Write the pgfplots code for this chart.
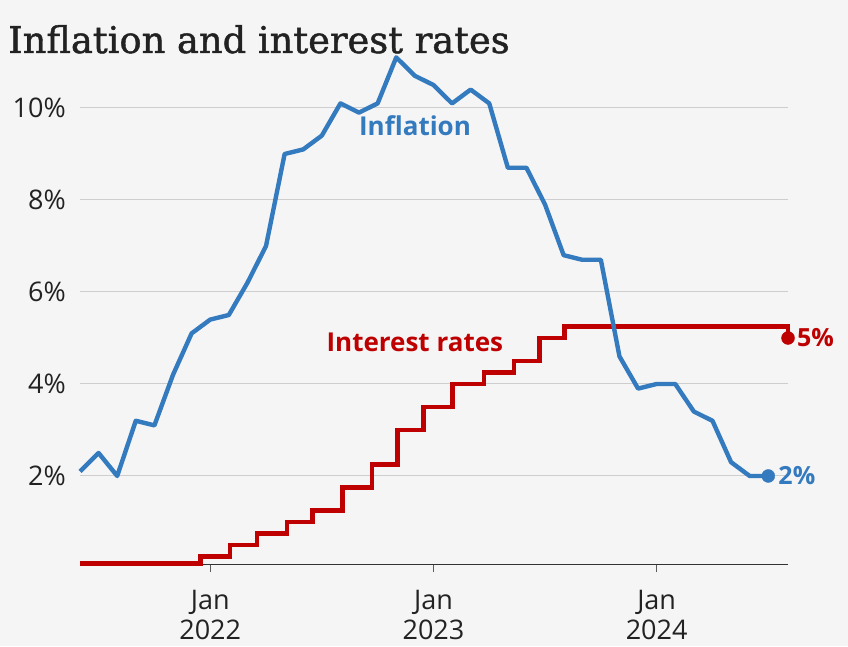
\documentclass[border=0pt]{standalone}
\usepackage{fontspec}
\setmainfont{Open Sans}
\newfontfamily\titlefont{DejaVu Serif}[FakeBold=1.2]
\usepackage{pgfplots}
\pgfplotsset{compat=1.18}
\definecolor{bg}{RGB}{245,245,245}
\definecolor{infl}{RGB}{52,122,190}
\definecolor{rate}{RGB}{190,0,0}
\definecolor{gridc}{RGB}{206,206,206}
\definecolor{txt}{RGB}{34,34,34}
\definecolor{axc}{RGB}{50,50,50}
\begin{document}
\begin{tikzpicture}[x=1pt,y=1pt]
\fill[bg] (0,0) rectangle (848,646);
\useasboundingbox (0,0) rectangle (848,646);
\node[anchor=base west, inner sep=0, font=\titlefont\fontsize{36.8}{40}\selectfont, text=txt] at (8,593) {Inflation and interest rates};
\begin{axis}[
  at={(80pt,81.7pt)}, anchor=south west, scale only axis,
  width=708pt, height=511.5pt,
  xmin=0, xmax=38.06, ymin=0.08, ymax=11.2,
  clip=false,
  axis x line*=bottom, axis y line*=left,
  y axis line style={draw=none},
  x axis line style={draw=axc, line width=1.5pt},
  xtick={7,19,31},
  xticklabels={{Jan\\2022},{Jan\\2023},{Jan\\2024}},
  ytick={2,4,6,8,10},
  yticklabels={2\%,4\%,6\%,8\%,10\%},
  ytick style={draw=none},
  xtick style={draw=axc!80, line width=1.2pt},
  tick align=outside, major tick length=8pt,
  xticklabel style={font=\fontsize{27}{30}\selectfont, align=center, text=txt, yshift=-14pt},
  yticklabel style={font=\fontsize{27}{30}\selectfont, text=txt, anchor=east, inner sep=0pt, xshift=-6pt},
  ymajorgrids, grid style={draw=gridc, line width=1pt},
]
\addplot[const plot, draw=rate, line width=4.6pt] coordinates {
(0,0.1) (6.48,0.25) (8.07,0.5) (9.52,0.75) (11.13,1.0) (12.5,1.25) (14.1,1.75) (15.7,2.25) (17.07,3.0) (18.45,3.5) (20.04,4.0) (21.71,4.25) (23.32,4.5) (24.7,5.0) (26.06,5.25) (38.06,5.25) (38.06,5.0)
};
\addplot[draw=infl, line width=4.4pt, line join=round] coordinates {
(0,2.1) (1,2.5) (2,2.0) (3,3.2) (4,3.1) (5,4.2) (6,5.1) (7,5.4) (8,5.5) (9,6.2) (10,7.0) (11,9.0) (12,9.1) (13,9.4) (14,10.1) (15,9.9) (16,10.1) (17,11.1) (18,10.7) (19,10.5) (20,10.1) (21,10.4) (22,10.1) (23,8.7) (24,8.7) (25,7.9) (26,6.8) (27,6.7) (28,6.7) (29,4.6) (30,3.9) (31,4.0) (32,4.0) (33,3.4) (34,3.2) (35,2.3) (36,2.0) (37,2.0)
};
\addplot[only marks, mark=*, mark size=6.5pt, color=rate] coordinates {(38.06,5.0)};
\addplot[only marks, mark=*, mark size=6.5pt, color=infl] coordinates {(37,2.0)};
\node[anchor=west, inner sep=0, xshift=9pt, text=rate, font=\bfseries\fontsize{25}{30}\selectfont] at (axis cs:38.06,5.0) {5\%};
\node[anchor=west, inner sep=0, xshift=10pt, text=infl, font=\bfseries\fontsize{25}{30}\selectfont] at (axis cs:37,2.0) {2\%};
\node[text=infl, font=\bfseries\fontsize{26}{30}\selectfont, inner sep=0] at (axis cs:18.01,9.61) {Inflation};
\node[text=rate, font=\bfseries\fontsize{26}{30}\selectfont, inner sep=0] at (axis cs:18.0,4.91) {Interest rates};
\end{axis}
\end{tikzpicture}
\end{document}
